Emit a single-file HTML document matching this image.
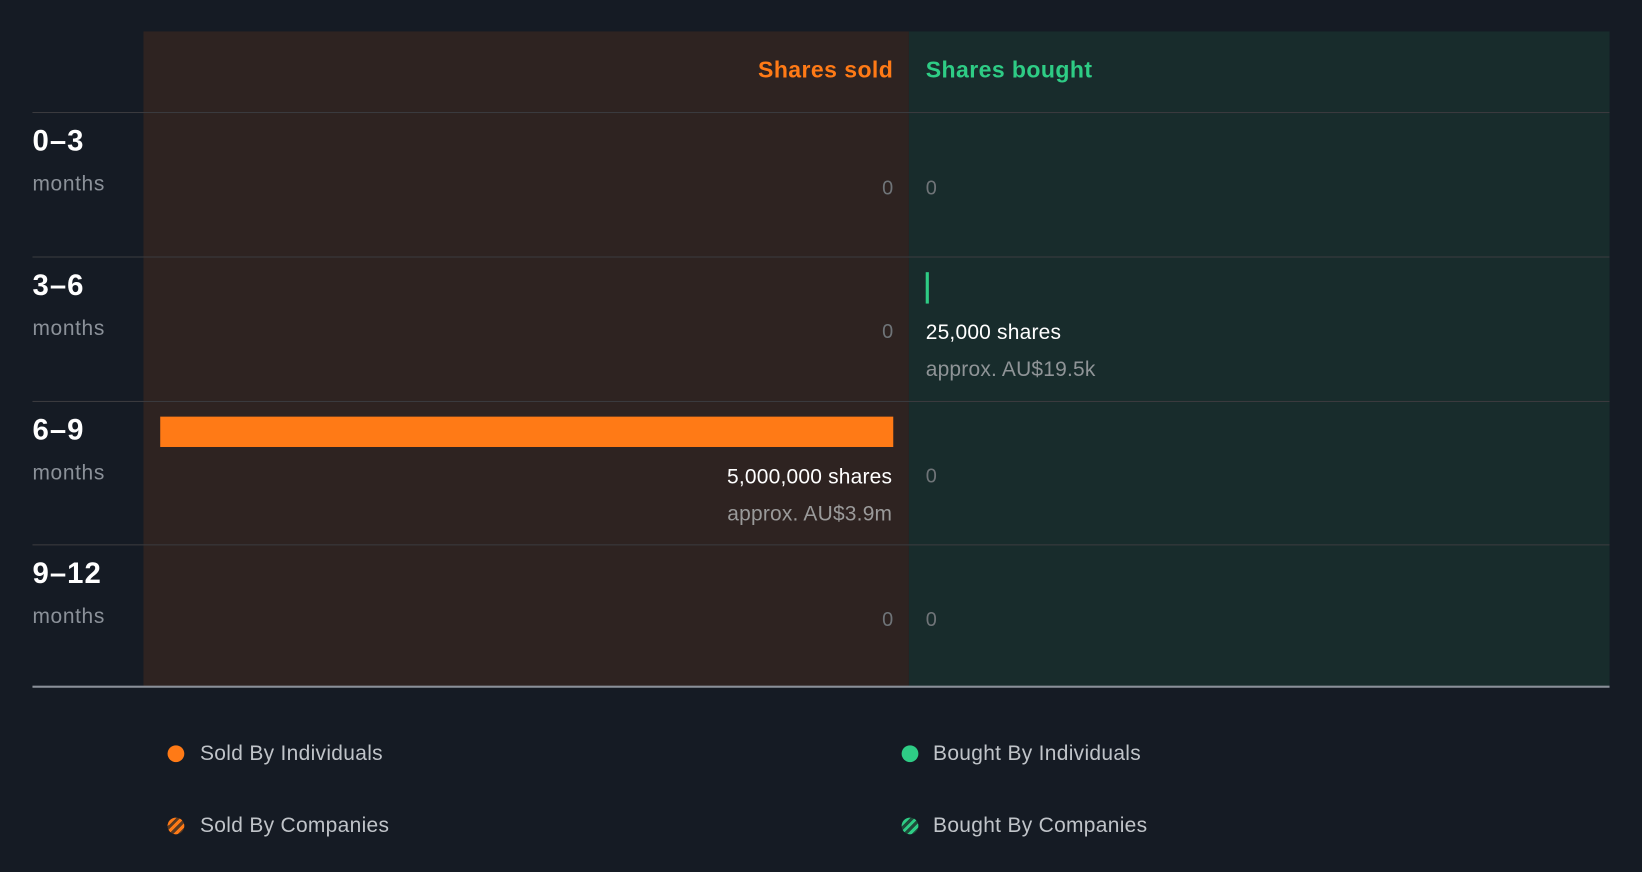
<!DOCTYPE html>
<html><head><style>
html,body{margin:0;padding:0;background:#151b24;overflow:hidden}
body{width:1642px;height:872px}
#c{position:absolute;left:0;top:0;width:1568px;height:833px;transform:scale(1.04719,1.04682);transform-origin:0 0;font-family:"Liberation Sans",Arial,sans-serif}
.a{position:absolute;white-space:nowrap}
.h{height:1px;background:#3b3b3f;position:absolute}
.z{color:#6f7478;font-size:19px}
.lab{color:#fff;font-weight:bold;font-size:28px;letter-spacing:1px}
.mo{color:#8b9199;font-size:20px;letter-spacing:0.6px}
.lg{color:#c0c4c9;font-size:20px;letter-spacing:0.3px}
.t{font-size:20px;letter-spacing:0.2px}
.r{text-align:right}
</style></head><body><div id="c">
<div class="a" style="left:137px;top:30px;width:731px;height:626px;background:#2e2321"></div>
<div class="a" style="left:868px;top:30px;width:669px;height:626px;background:#182c2c"></div>
<div class="h" style="left:31px;top:107px;width:1506px"></div>
<div class="h" style="left:31px;top:245px;width:1506px"></div>
<div class="h" style="left:31px;top:383px;width:1506px"></div>
<div class="h" style="left:31px;top:520px;width:1506px"></div>
<div class="a" style="left:31px;top:655px;width:1506px;height:2px;background:#8a9099"></div>
<div class="a r" style="right:715px;top:54px;color:#ff7a16;font-weight:bold;font-size:22px;letter-spacing:0.4px">Shares sold</div>
<div class="a" style="left:884px;top:54px;color:#2ecc85;font-weight:bold;font-size:22px;letter-spacing:0.4px">Shares bought</div>

<div class="a lab" style="left:31px;top:119px">0–3</div><div class="a mo" style="left:31px;top:165px">months</div>
<div class="a lab" style="left:31px;top:257px">3–6</div><div class="a mo" style="left:31px;top:303px">months</div>
<div class="a lab" style="left:31px;top:395px">6–9</div><div class="a mo" style="left:31px;top:441px">months</div>
<div class="a lab" style="left:31px;top:532px">9–12</div><div class="a mo" style="left:31px;top:578px">months</div>

<div class="a z r" style="right:715px;top:170px">0</div><div class="a z" style="left:884px;top:170px">0</div>
<div class="a z r" style="right:715px;top:307px">0</div>
<div class="a" style="left:884px;top:260px;width:3px;height:30px;background:#2ecc85"></div>
<div class="a t" style="left:884px;top:307px;color:#fff">25,000 shares</div>
<div class="a t" style="left:884px;top:342px;color:#8f9497">approx. AU$19.5k</div>
<div class="a" style="left:153px;top:398px;width:700px;height:29px;background:#ff7a16"></div>
<div class="a r t" style="right:716px;top:445px;color:#fff">5,000,000 shares</div>
<div class="a r t" style="right:716px;top:480px;color:#9a9a9a">approx. AU$3.9m</div>
<div class="a z" style="left:884px;top:445px">0</div>
<div class="a z r" style="right:715px;top:582px">0</div><div class="a z" style="left:884px;top:582px">0</div>

<div class="a" style="left:160px;top:712px;width:16px;height:16px;border-radius:50%;background:#ff7a16"></div>
<div class="a lg" style="left:191px;top:709px">Sold By Individuals</div>
<div class="a" style="left:160px;top:781px;width:16px;height:16px;border-radius:50%;background:repeating-linear-gradient(135deg,#5a3a22 0 3px,#ff7a16 3px 6px)"></div>
<div class="a lg" style="left:191px;top:778px">Sold By Companies</div>
<div class="a" style="left:861px;top:712px;width:16px;height:16px;border-radius:50%;background:#2ecc85"></div>
<div class="a lg" style="left:891px;top:709px">Bought By Individuals</div>
<div class="a" style="left:861px;top:781px;width:16px;height:16px;border-radius:50%;background:repeating-linear-gradient(135deg,#1f4a3a 0 3px,#2ecc85 3px 6px)"></div>
<div class="a lg" style="left:891px;top:778px">Bought By Companies</div>
</div></body></html>
